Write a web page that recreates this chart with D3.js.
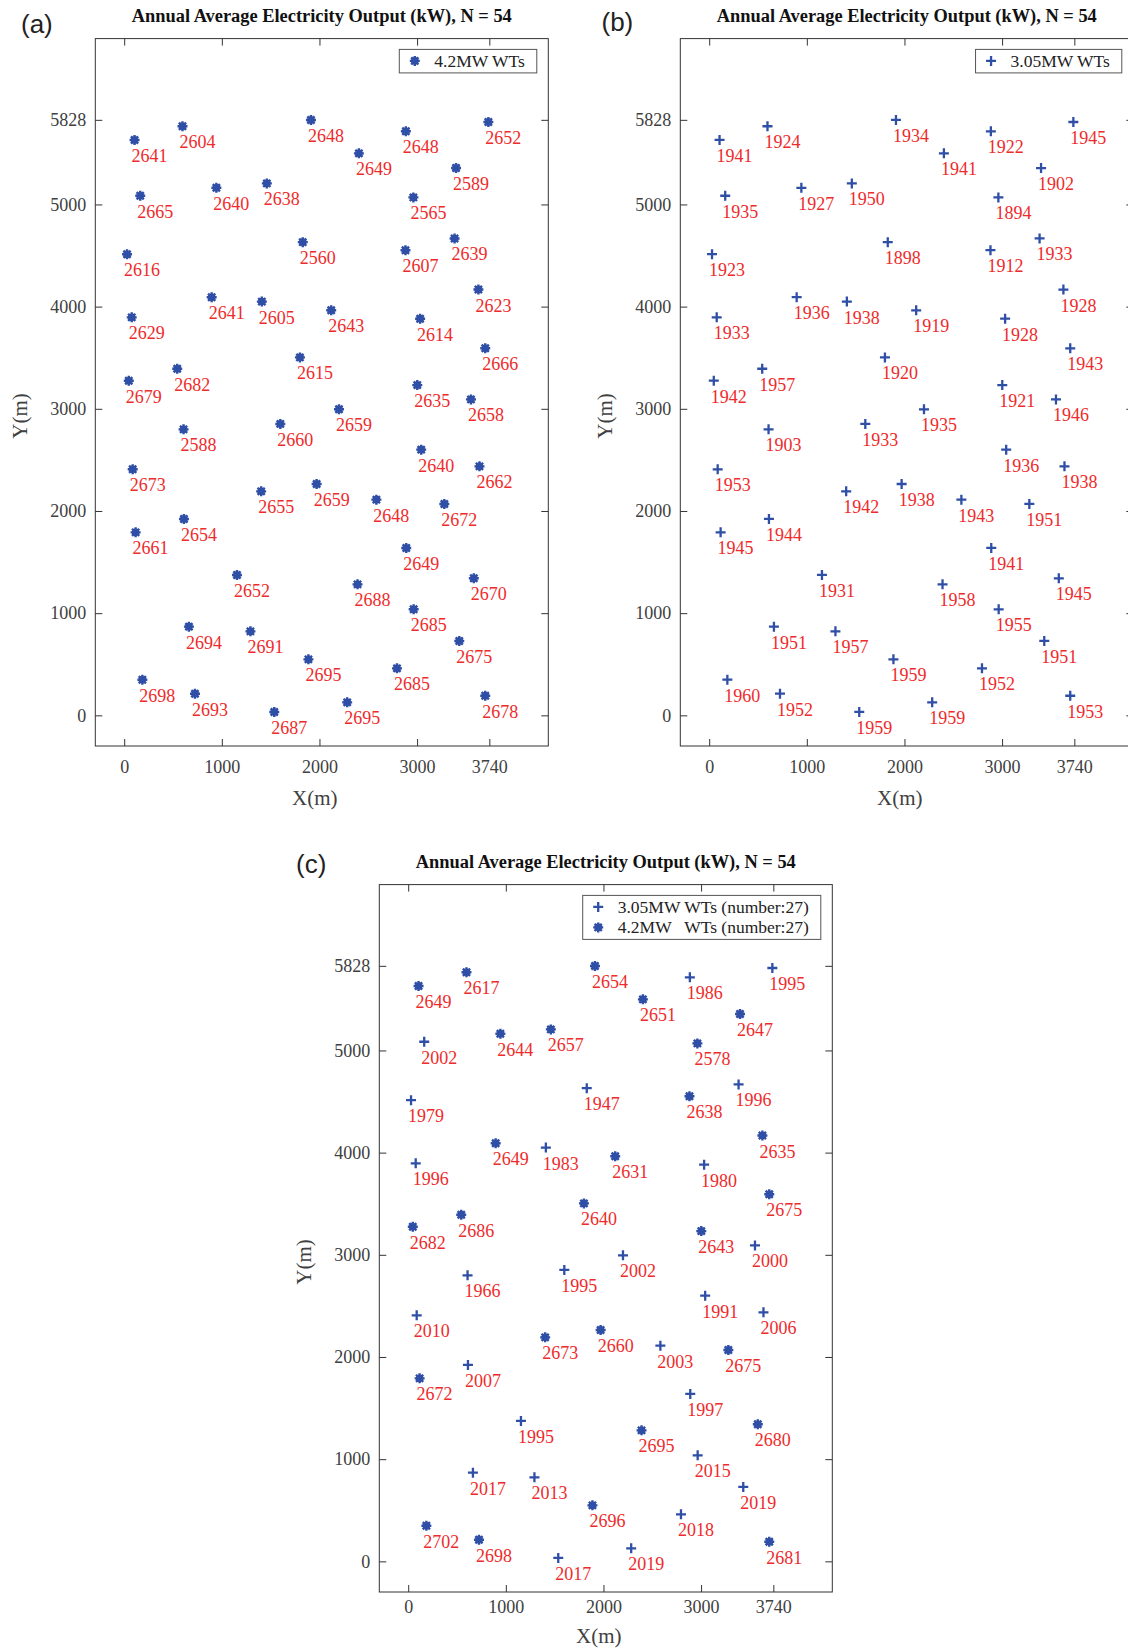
<!DOCTYPE html>
<html lang="en">
<head>
<meta charset="utf-8">
<title>Annual Average Electricity Output</title>
<script src="https://d3js.org/d3.v7.min.js"></script>
<style>
body { margin: 0; background: #fff; }
svg { display: block; font-family: "Liberation Serif", "Times New Roman", serif; }
.tick text { fill: #404040; font-size: 18px; }
.tick line { stroke: #333; }
.wt-label { fill: #ee2b2b; font-size: 18px; }
.legend text { fill: #222; font-size: 17.5px; white-space: pre; }
</style>
</head>
<body>
<svg id="chart" width="1128" height="1650"></svg>
<script>

// turbine positions (m), same layout in all three panels
var turbineX = [106,597,1913,2404,2885,3730,3399,164,944,1461,2962,1829,2881,3384,29,896,1410,2120,3628,77,3031,1800,3698,47,543,3002,3552,2200,608,1599,3042,87,3639,1403,1971,2583,3279,612,117,2889,1155,2390,3581,2965,663,1293,1887,3432,2794,186,725,1537,2284,3698];
var turbineY = [5631,5765,5827,5500,5716,5807,5356,5085,5163,5206,5069,4631,4552,4667,4513,4092,4049,3964,4167,3895,3882,3503,3592,3275,3392,3232,3092,2995,2799,2852,2600,2408,2437,2192,2264,2111,2069,1922,1791,1638,1374,1282,1341,1038,868,822,548,728,460,349,212,33,127,192];

// annual average output (kW)
var outputA = [2641,2604,2648,2649,2648,2652,2589,2665,2640,2638,2565,2560,2607,2639,2616,2641,2605,2643,2623,2629,2614,2615,2666,2679,2682,2635,2658,2659,2588,2660,2640,2673,2662,2655,2659,2648,2672,2654,2661,2649,2652,2688,2670,2685,2694,2691,2695,2675,2685,2698,2693,2687,2695,2678];
var outputB = [1941,1924,1934,1941,1922,1945,1902,1935,1927,1950,1894,1898,1912,1933,1923,1936,1938,1919,1928,1933,1928,1920,1943,1942,1957,1921,1946,1935,1903,1933,1936,1953,1938,1942,1938,1943,1951,1944,1945,1941,1931,1958,1945,1955,1951,1957,1959,1951,1952,1960,1952,1959,1959,1953];
var outputC = [2649,2617,2654,2651,1986,1995,2647,2002,2644,2657,2578,1947,2638,1996,1979,2649,1983,2631,2635,1996,1980,2640,2675,2682,2686,2643,2000,2002,1966,1995,1991,2010,2006,2673,2660,2003,2675,2007,2672,1997,1995,2695,2680,2015,2017,2013,2696,2019,2018,2702,2698,2017,2019,2681];

var typeA = turbineX.map(function() { return "4.2MW"; });
var typeB = turbineX.map(function() { return "3.05MW"; });
var typeC = ["4.2MW","4.2MW","4.2MW","4.2MW","3.05MW","3.05MW","4.2MW","3.05MW","4.2MW","4.2MW",
             "4.2MW","3.05MW","4.2MW","3.05MW","3.05MW","4.2MW","3.05MW","4.2MW","4.2MW","3.05MW",
             "3.05MW","4.2MW","4.2MW","4.2MW","4.2MW","4.2MW","3.05MW","3.05MW","3.05MW","3.05MW",
             "3.05MW","3.05MW","3.05MW","4.2MW","4.2MW","3.05MW","4.2MW","3.05MW","4.2MW","3.05MW",
             "3.05MW","4.2MW","4.2MW","3.05MW","3.05MW","3.05MW","4.2MW","3.05MW","3.05MW","4.2MW",
             "4.2MW","3.05MW","3.05MW","4.2MW"];

var xTicks = [0, 1000, 2000, 3000, 3740];
var yTicks = [0, 1000, 2000, 3000, 4000, 5000, 5828];

var titleText = "Annual Average Electricity Output (kW), N = 54";

var blue = "#2f4fa6";

var svg = d3.select("#chart");
svg.append("rect").attr("width", 1128).attr("height", 1650).attr("fill", "#fff");

var width = 453, height = 707.4;

var x = d3.scaleLinear().domain([-296, 4344]).range([0, width]),
    y = d3.scaleLinear().domain([-300, 6623]).range([height, 0]);

// marker drawing: "*" blob for 4.2MW, "+" for 3.05MW
function drawMarker(sel, type) {
  if (type == "4.2MW") {
    sel.append("circle").attr("r", 3.8).attr("fill", blue);
    sel.append("path")
      .attr("d", "M-5,0L5,0M0,-5L0,5M-3.6,-3.6L3.6,3.6M-3.6,3.6L3.6,-3.6")
      .attr("stroke", blue).attr("stroke-width", 2.4).attr("fill", "none");
  } else {
    sel.append("path")
      .attr("d", "M-5,0L5,0M0,-5L0,5")
      .attr("stroke", blue).attr("stroke-width", 2.3).attr("fill", "none");
  }
}

function noFont(a) {
  a.attr("font-family", null).attr("font-size", null);
  a.select(".domain").remove();
}

function drawPanel(p) {
  var g = svg.append("g")
      .attr("transform", "translate(" + p.left + "," + p.top + ")");

  g.append("g")
      .attr("transform", "translate(0," + height + ")")
      .call(d3.axisBottom(x).tickValues(xTicks).tickSizeInner(-7).tickSizeOuter(0).tickPadding(p.xPad).tickFormat(d3.format("d")))
      .call(noFont);
  g.append("g")
      .call(d3.axisTop(x).tickValues(xTicks).tickSizeInner(-7).tickSizeOuter(0).tickFormat(""))
      .call(noFont);
  g.append("g")
      .call(d3.axisLeft(y).tickValues(yTicks).tickSizeInner(-7).tickSizeOuter(0).tickPadding(9).tickFormat(d3.format("d")))
      .call(noFont);
  g.append("g")
      .attr("transform", "translate(" + width + ",0)")
      .call(d3.axisRight(y).tickValues(yTicks).tickSizeInner(-7).tickSizeOuter(0).tickFormat(""))
      .call(noFont);

  g.append("rect")
      .attr("width", width).attr("height", height)
      .attr("fill", "none").attr("stroke", "#333").attr("stroke-width", 1);

  // title + panel letter + axis labels
  g.append("text")
      .attr("x", width / 2).attr("y", -17)
      .attr("text-anchor", "middle")
      .attr("font-weight", "bold").attr("font-size", "18.4px").attr("fill", "#111")
      .text(titleText);
  g.append("text")
      .attr("x", p.letterX - p.left).attr("y", p.letterY - p.top)
      .attr("font-family", "'Liberation Sans', Arial, sans-serif")
      .attr("font-size", "26px").attr("fill", "#222")
      .text(p.letter);
  g.append("text")
      .attr("x", 219.5).attr("y", p.xLabelY)
      .attr("text-anchor", "middle").attr("font-size", "21px").attr("fill", "#404040")
      .text("X(m)");
  g.append("text")
      .attr("transform", "translate(-75.5,377.4) rotate(-90)")
      .attr("text-anchor", "middle").attr("dy", "0.35em").attr("font-size", "21px").attr("fill", "#404040")
      .text("Y(m)");

  // turbines
  var pts = g.selectAll(".wt")
    .data(turbineX.map(function(d, i) { return {x: d, y: turbineY[i], v: p.values[i], t: p.types[i]}; }))
    .enter().append("g")
      .attr("class", "wt")
      .attr("transform", function(d) { return "translate(" + x(d.x) + "," + y(d.y) + ")"; });
  pts.each(function(d) { drawMarker(d3.select(this), d.t); });
  pts.append("text")
      .attr("class", "wt-label")
      .attr("x", -3).attr("y", 22)
      .text(function(d) { return d.v; });

  // legend
  var rightEdge = 441.5;
  var leg = g.append("g").attr("class", "legend");
  var rows = leg.selectAll("text")
    .data(p.legend).enter().append("text")
      .attr("y", function(d, i) { return 28.3 + i * 20.5; })
      .text(function(d) { return d.label; });
  var tw = d3.max(rows.nodes(), function(n) { return n.getComputedTextLength(); });
  var boxW = tw + 47, boxL = rightEdge - boxW;
  rows.attr("x", boxL + 35);
  leg.insert("rect", "text")
      .attr("x", boxL).attr("y", 10.8)
      .attr("width", boxW).attr("height", 23.5 + (p.legend.length - 1) * 20.5)
      .attr("fill", "#fff").attr("stroke", "#555").attr("stroke-width", 1);
  p.legend.forEach(function(d, i) {
    var m = leg.append("g").attr("transform", "translate(" + (boxL + 15.5) + "," + (22.3 + i * 20.5) + ")");
    drawMarker(m, d.type);
  });
}

drawPanel({left: 95.3, top: 38.6, letter: "(a)", letterX: 21, letterY: 32.5,
           xPad: 14, xLabelY: 766, values: outputA, types: typeA,
           legend: [{type: "4.2MW", label: "4.2MW WTs"}]});
drawPanel({left: 680.3, top: 38.6, letter: "(b)", letterX: 601.5, letterY: 30.5,
           xPad: 14, xLabelY: 766, values: outputB, types: typeB,
           legend: [{type: "3.05MW", label: "3.05MW WTs"}]});
drawPanel({left: 379.3, top: 884.6, letter: "(c)", letterX: 296, letterY: 873,
           xPad: 8.3, xLabelY: 758, values: outputC, types: typeC,
           legend: [{type: "3.05MW", label: "3.05MW WTs (number:27)"},
                    {type: "4.2MW", label: "4.2MW   WTs (number:27)"}]});

</script>
</body>
</html>
